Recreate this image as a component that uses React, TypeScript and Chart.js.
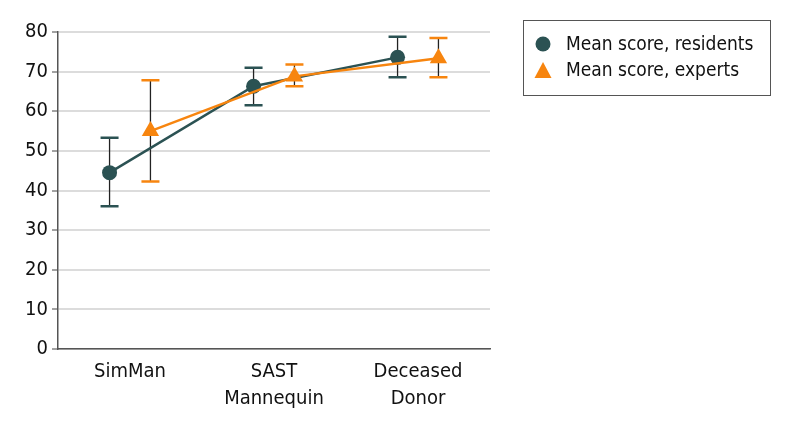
import React, { useEffect, useRef } from "react";
import { Chart, registerables } from "chart.js";

Chart.register(...registerables);

const categories = ["SimMan", ["SAST", "Mannequin"], ["Deceased", "Donor"]];
const residentsMean = [44.5, 66.3, 73.6];
const residentsLow = [36.0, 61.5, 68.6];
const residentsHigh = [53.3, 71.0, 78.8];
const expertsMean = [55.0, 68.8, 73.4];
const expertsLow = [42.3, 66.3, 68.6];
const expertsHigh = [67.8, 71.8, 78.5];
const seriesLabels = ["Mean score, residents", "Mean score, experts"];
const yTicks = [0, 10, 20, 30, 40, 50, 60, 70, 80];

const TEAL = "#2b5253";
const ORANGE = "#f7850f";
const FONT = "'DejaVu Sans Condensed', 'Liberation Sans Narrow', 'Noto Sans', sans-serif";
const OFFSET = 0.142;

const errorBars = {
  id: "errorBars",
  beforeDatasetsDraw(chart: any) {
    const { ctx, scales } = chart;
    const xs = scales.x;
    const ys = scales.y;
    const draw = (means: number[], lows: number[], highs: number[], off: number, color: string) => {
      means.forEach((_, i) => {
        const x = xs.getPixelForValue(i + off);
        const yl = ys.getPixelForValue(lows[i]);
        const yh = ys.getPixelForValue(highs[i]);
        ctx.save();
        ctx.strokeStyle = "#222";
        ctx.lineWidth = 1.3;
        ctx.beginPath();
        ctx.moveTo(x, yl);
        ctx.lineTo(x, yh);
        ctx.stroke();
        ctx.strokeStyle = color;
        ctx.lineWidth = 2.5;
        ctx.beginPath();
        ctx.moveTo(x - 9, yl);
        ctx.lineTo(x + 9, yl);
        ctx.moveTo(x - 9, yh);
        ctx.lineTo(x + 9, yh);
        ctx.stroke();
        ctx.restore();
      });
    };
    draw(residentsMean, residentsLow, residentsHigh, -OFFSET, TEAL);
    draw(expertsMean, expertsLow, expertsHigh, OFFSET, ORANGE);
  },
};

const boxLegend = {
  id: "boxLegend",
  afterDraw(chart: any) {
    const { ctx } = chart;
    ctx.save();
    ctx.strokeStyle = "#555";
    ctx.lineWidth = 1;
    ctx.strokeRect(523.5, 20.5, 247, 75);
    ctx.fillStyle = TEAL;
    ctx.beginPath();
    ctx.arc(543, 44, 7.5, 0, Math.PI * 2);
    ctx.fill();
    ctx.fillStyle = ORANGE;
    ctx.beginPath();
    ctx.moveTo(543, 62);
    ctx.lineTo(551.5, 78);
    ctx.lineTo(534.5, 78);
    ctx.closePath();
    ctx.fill();
    ctx.fillStyle = "#111";
    ctx.font = `19px ${FONT}`;
    ctx.textBaseline = "middle";
    ctx.textAlign = "left";
    ctx.fillText(seriesLabels[0], 566, 45);
    ctx.fillText(seriesLabels[1], 566, 71);
    ctx.restore();
  },
};

export default function App() {
  const ref = useRef<HTMLCanvasElement>(null);
  useEffect(() => {
    if (!ref.current) return;
    const chart = new Chart(ref.current, {
      type: "line",
      data: {
        datasets: [
          {
            label: seriesLabels[0],
            data: residentsMean.map((v, i) => ({ x: i - OFFSET, y: v })),
            borderColor: TEAL,
            backgroundColor: TEAL,
            borderWidth: 2.5,
            pointStyle: "circle",
            pointRadius: 7.5,
            pointBorderWidth: 0,
            order: 2,
          },
          {
            label: seriesLabels[1],
            data: expertsMean.map((v, i) => ({ x: i + OFFSET, y: v })),
            borderColor: ORANGE,
            backgroundColor: ORANGE,
            borderWidth: 2.5,
            pointStyle: "triangle",
            pointRadius: 10,
            pointBorderWidth: 0,
            order: 1,
          },
        ],
      },
      options: {
        animation: false,
        responsive: false,
        layout: { padding: { left: 0, right: 304, top: 32, bottom: 0 } },
        plugins: { legend: { display: false }, tooltip: { enabled: false } },
        scales: {
          x: {
            type: "linear",
            min: -0.5,
            max: 2.5,
            afterBuildTicks(scale: any) {
              scale.ticks = categories.map((_, i) => ({ value: i }));
            },
            afterFit(scale: any) {
              scale.height = 78;
            },
            grid: { display: false, drawTicks: false },
            border: { color: "#555", width: 1.5 },
            ticks: {
              callback: (v: any) => categories[v as number] as any,
              color: "#111",
              font: { family: FONT, size: 20, lineHeight: 1.35 },
              padding: 9,
              maxRotation: 0,
            },
          },
          y: {
            min: 0,
            max: 80,
            afterBuildTicks(scale: any) {
              scale.ticks = yTicks.map((v) => ({ value: v }));
            },
            afterFit(scale: any) {
              scale.width = 58;
            },
            grid: { color: "#dcdcdc", lineWidth: 2, tickLength: 6, tickColor: "#444", tickWidth: 1 } as any,
            border: { color: "#555", width: 1.5 },
            ticks: {
              color: "#111",
              font: { family: FONT, size: 20 },
              padding: 4,
            },
          },
        },
      },
      plugins: [errorBars, boxLegend],
    } as any);
    return () => chart.destroy();
  }, []);
  return (
    <div style={{ position: "absolute", left: 0, top: 0, width: 794, height: 427, background: "#fff" }}>
      <canvas ref={ref} width={794} height={427} />
    </div>
  );
}
